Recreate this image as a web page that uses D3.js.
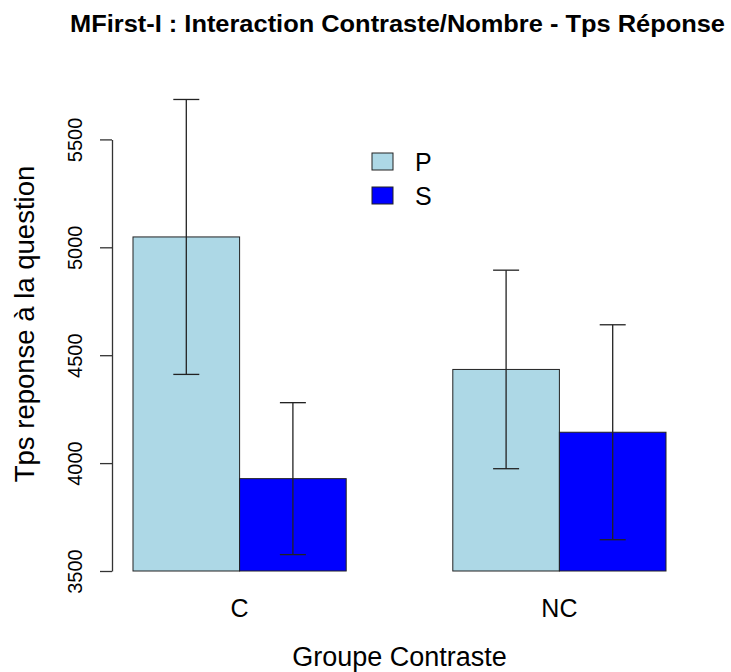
<!DOCTYPE html>
<html>
<head>
<meta charset="utf-8">
<script src="https://cdn.jsdelivr.net/npm/d3@7"></script>
<style>
  body { margin: 0; background: #fff; }
  text { font-family: "Liberation Sans", Arial, sans-serif; fill: #000; }
</style>
</head>
<body>
<svg id="chart" width="731" height="672"></svg>
<script>
// data
const groups = ["C", "NC"];
const series = ["P", "S"];
const meanP = [5048, 4434];
const meanS = [3928, 4143];
const errP = [637, 460];
const errS = [352, 498];
const yTicks = [3500, 4000, 4500, 5000, 5500];
const colors = ["#ADD8E6", "#0000FF"];

const svg = d3.select("#chart");

const x = d3.scaleBand()
  .domain(groups)
  .range([133, 666])
  .paddingInner(1 / 3)
  .paddingOuter(0);

const xs = d3.scaleBand()
  .domain(series)
  .range([0, x.bandwidth()]);

const y = d3.scaleLinear()
  .domain([3500, 5500])
  .range([571, 139.4]);

const color = d3.scaleOrdinal().domain(series).range(colors);

const rows = [];
groups.forEach((g, i) => {
  rows.push({ group: g, key: "P", value: meanP[i], err: errP[i] });
  rows.push({ group: g, key: "S", value: meanS[i], err: errS[i] });
});

// bars
svg.append("g").selectAll("rect")
  .data(rows).enter()
  .append("rect")
  .attr("x", d => x(d.group) + xs(d.key))
  .attr("y", d => y(d.value))
  .attr("width", xs.bandwidth())
  .attr("height", d => y(3500) - y(d.value))
  .attr("fill", d => color(d.key))
  .attr("stroke", "#222")
  .attr("stroke-width", 1);

// error bars
const eb = svg.append("g").selectAll("g")
  .data(rows).enter()
  .append("g")
  .attr("stroke", "#222")
  .attr("stroke-width", 1.3);

const cx = d => x(d.group) + xs(d.key) + xs.bandwidth() / 2;
eb.append("line")
  .attr("x1", cx).attr("x2", cx)
  .attr("y1", d => y(d.value + d.err))
  .attr("y2", d => y(d.value - d.err));
eb.append("line")
  .attr("x1", d => cx(d) - 13).attr("x2", d => cx(d) + 13)
  .attr("y1", d => y(d.value + d.err))
  .attr("y2", d => y(d.value + d.err));
eb.append("line")
  .attr("x1", d => cx(d) - 13).attr("x2", d => cx(d) + 13)
  .attr("y1", d => y(d.value - d.err))
  .attr("y2", d => y(d.value - d.err));

// y axis
const yAxis = svg.append("g")
  .attr("transform", "translate(112,0)")
  .call(d3.axisLeft(y).tickValues(yTicks).tickSize(12).tickSizeOuter(0).tickFormat(d3.format("d")));
yAxis.selectAll("path, line").attr("stroke", "#333").attr("stroke-width", 1.3);
yAxis.selectAll("text")
  .attr("x", null).attr("dy", null)
  .attr("text-anchor", "middle")
  .attr("transform", "translate(-30,0) rotate(-90)")
  .style("font-family", "'Liberation Sans', Arial, sans-serif")
  .style("font-size", "20px")
  .attr("fill", "#000");

// x group labels
svg.append("g").selectAll("text")
  .data(groups).enter()
  .append("text")
  .attr("x", d => x(d) + x.bandwidth() / 2)
  .attr("y", 617)
  .attr("text-anchor", "middle")
  .style("font-size", "25px")
  .text(d => d);

// axis titles
svg.append("text")
  .attr("x", 399.5).attr("y", 666)
  .attr("text-anchor", "middle")
  .style("font-size", "27px")
  .text("Groupe Contraste");

svg.append("text")
  .attr("transform", "translate(34,324) rotate(-90)")
  .attr("text-anchor", "middle")
  .style("font-size", "27.5px")
  .text("Tps reponse à la question");

// title
svg.append("text")
  .attr("x", 397.5).attr("y", 32)
  .attr("text-anchor", "middle")
  .attr("textLength", 655)
  .attr("lengthAdjust", "spacingAndGlyphs")
  .style("font-size", "23.5px")
  .style("font-weight", "bold")
  .text("MFirst-I : Interaction Contraste/Nombre - Tps Réponse");

// legend
const lg = svg.append("g").selectAll("g")
  .data(series).enter()
  .append("g")
  .attr("transform", (d, i) => `translate(372,${153 + i * 34})`);
lg.append("rect")
  .attr("width", 21).attr("height", 17)
  .attr("fill", d => color(d))
  .attr("stroke", "#222");
lg.append("text")
  .attr("x", 43).attr("y", 17.5)
  .style("font-size", "25px")
  .text(d => d);
</script>
</body>
</html>
